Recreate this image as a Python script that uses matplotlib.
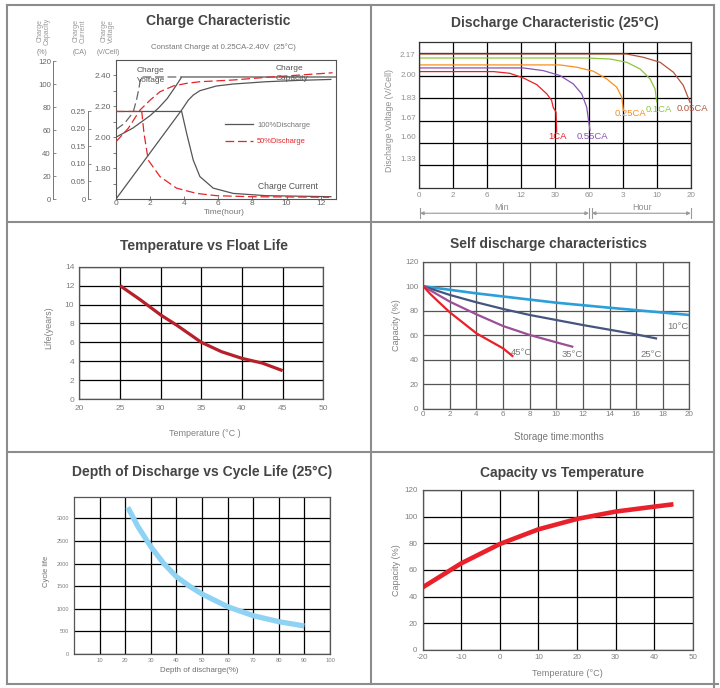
import numpy as np
import matplotlib
matplotlib.use('Agg')
import matplotlib.pyplot as plt
from matplotlib.lines import Line2D

plt.rcParams['font.family'] = ['Liberation Sans', 'DejaVu Sans']
plt.rcParams['axes.unicode_minus'] = False

W, H = 720, 688

### data: charge characteristic (time in hours) ###
v100_t = [0, 1, 2, 2.5, 3, 3.5, 3.85, 12.9]
v100_v = [2.00, 2.06, 2.14, 2.19, 2.25, 2.33, 2.39, 2.39]
v50_t = [0, 0.5, 1.0, 1.2, 1.35, 1.45, 3.85]
v50_v = [2.05, 2.09, 2.16, 2.24, 2.32, 2.39, 2.39]
cap100_t = [0, 3.85, 4.24, 4.53, 4.92, 5.89, 6.87, 8.8, 10.76, 12.6]
cap100_c = [0, 77.4, 86, 90.4, 94.2, 98.3, 100, 102, 103.2, 104]
cap50_t = [0, 0.72, 1.41, 2.0, 2.58, 3.36, 4.14, 4.92, 6.87, 8.8, 10.76, 12.7]
cap50_c = [49.8, 61.5, 77.4, 86, 93.3, 98.3, 100.6, 102, 103.5, 105.8, 107.8, 109.8]
cur100_t = [0, 3.85, 4.14, 4.53, 4.92, 5.7, 6.87, 8.8, 12.6]
cur100_a = [0.25, 0.25, 0.188, 0.111, 0.064, 0.031, 0.016, 0.0095, 0.0066]
cur50_t = [0, 1.51, 1.64, 1.89, 2.58, 3.55, 4.72, 5.89, 7.84, 12.5]
cur50_a = [0.25, 0.25, 0.188, 0.111, 0.064, 0.031, 0.016, 0.0095, 0.0066, 0.005]

### data: discharge characteristic (time in minutes, volts) ###
dis_ticks_min = [0, 2, 6, 12, 30, 60, 180, 600, 1200]
dis_tick_labels = ['0', '2', '6', '12', '30', '60', '3', '10', '20']
volt_labels = [1.33, 1.60, 1.67, 1.83, 2.00, 2.17]
# the printed voltage axis is not linear: volts -> grid row
volt_map = [1.00, 1.33, 1.60, 1.67, 1.83, 2.00, 2.17, 2.27]
row_map = [0, 1.30, 2.27, 3.13, 4.04, 5.05, 5.97, 6.52]
dis_curves = {
    '1CA': ([0, 7.1, 10, 13.2, 20.3, 25.6, 28.2, 29.1, 30.9, 31.5],
            [2.025, 2.025, 2.011, 1.975, 1.925, 1.856, 1.805, 1.748, 1.714, 1.618]),
    '0.55CA': ([0, 13.2, 23.8, 34.4, 46.2, 53.6, 58.0, 63.8],
               [2.055, 2.055, 2.033, 1.993, 1.930, 1.856, 1.753, 1.624]),
    '0.25CA': ([0, 34.4, 49.2, 75.6, 122.8, 158.2, 175.9, 186.3],
               [2.080, 2.080, 2.061, 2.028, 1.968, 1.906, 1.831, 1.727]),
    '0.1CA': ([0, 58, 134.6, 227.5, 392.5, 516.4, 578.6, 599],
              [2.137, 2.137, 2.129, 2.102, 2.047, 1.968, 1.893, 1.792]),
    '0.05CA': ([0, 227.5, 433.7, 657.6, 893.4, 1070, 1188],
               [2.170, 2.170, 2.143, 2.102, 2.020, 1.918, 1.790]),
}
dis_colors = {'1CA': '#e8202a', '0.55CA': '#8a52b4', '0.25CA': '#f7901e',
              '0.1CA': '#8cc63f', '0.05CA': '#b2553c'}

### data: temperature vs float life ###
float_temp = [25, 27.5, 30, 32, 35, 37.5, 40, 42.5, 45]
float_life = [12, 10.5, 8.9, 7.8, 6.0, 5.0, 4.3, 3.8, 3.0]

### data: self discharge ###
sd_months = {
    '10°C': [0, 4, 10, 14, 20],
    '25°C': [0, 2, 4, 6, 8, 12, 16, 17.5],
    '35°C': [0, 2, 4, 6, 8, 10, 11.2],
    '45°C': [0, 0.5, 1, 2, 4, 6, 6.7],
}
sd_cap = {
    '10°C': [100, 94.2, 86.6, 82.5, 76.6],
    '25°C': [100, 92.9, 86.9, 81.5, 76.6, 68.4, 60.8, 57.5],
    '35°C': [100, 87.4, 77.1, 67.6, 60.3, 54.3, 50.8],
    '45°C': [100, 94, 88.8, 78.7, 61.6, 49.4, 43.2],
}
sd_colors = {'10°C': '#2a9fd8', '25°C': '#45557f', '35°C': '#9b4f96', '45°C': '#e8202a'}

### data: depth of discharge vs cycle life ###
dod = [21, 25, 30, 35, 40, 45, 50, 60, 70, 80, 90]
cycles = [3245, 2817, 2375, 2006, 1711, 1504, 1327, 1047, 848, 715, 620]

### data: capacity vs temperature ###
ct_temp = [-20, -10, 0, 10, 20, 30, 40, 45]
ct_cap = [47, 65, 79.5, 90.5, 98.3, 103.8, 107.5, 109.3]


fig = plt.figure(figsize=(7.2, 6.88), dpi=100)


def rect(l, t, r, b):
    return [l / W, 1 - b / H, (r - l) / W, (b - t) / H]


def ftext(x, y, s, **kw):
    kw.setdefault('ha', 'center')
    kw.setdefault('va', 'center')
    fig.text(x / W, 1 - y / H, s, **kw)


def fline(x0, y0, x1, y1):
    fig.add_artist(Line2D([x0 / W, x1 / W], [1 - y0 / H, 1 - y1 / H],
                          color='#8c8c8c', lw=1.5, transform=fig.transFigure))


def interp_fn(xp, fp):
    return lambda x: np.interp(x, xp, fp)


def grid_panel(ax, fs, xpad, ypad):
    ax.grid(True, color='black', lw=0.9)
    ax.set_axisbelow(True)
    ax.tick_params(length=0, labelsize=fs, labelcolor='#808080')
    ax.tick_params(axis='x', pad=xpad)
    ax.tick_params(axis='y', pad=ypad)
    for s in ax.spines.values():
        s.set_color('#555555')
        s.set_linewidth(0.9)


TITLE = dict(fontsize=10, fontweight='bold', color='#454545')
GRAY = '#808080'

### panel borders ###
fline(7, 5, 714, 5)
fline(7, 684, 718, 684)
fline(7, 5, 7, 684)
fline(714, 5, 714, 688)
fline(371, 5, 371, 684)
fline(7, 222, 714, 222)
fline(7, 452, 714, 452)

### 1. charge characteristic ###
r1 = rect(116, 60, 336, 199)
ax1 = fig.add_axes(r1)
ax1.set_xlim(0, 12.9)
ax1.set_ylim(1.6, 2.5)
ax1.set_xticks(range(0, 13, 2))
ax1.set_yticks([1.8, 2.0, 2.2, 2.4])
ax1.set_yticklabels(['1.80', '2.00', '2.20', '2.40'])
ax1.set_yticks(np.arange(1.7, 2.5, 0.1), minor=True)
for s in ax1.spines.values():
    s.set_color('#555555')
    s.set_linewidth(0.8)
ax1.tick_params(labelsize=6, colors='#666666', labelcolor='#666666', length=2.5, width=0.6, pad=1)
ax1.tick_params(axis='y', which='minor', length=2, width=0.6, colors='#666666')
ax1.tick_params(axis='x', direction='in')

ax_cap = fig.add_axes(r1)
ax_cur = fig.add_axes(r1)
for axx, pos, top, bound, ticks, labels in [
        (ax_cap, (53 - 116) / 220, 120.9, 120, list(range(0, 121, 20)), None),
        (ax_cur, (88 - 116) / 220, 0.397, 0.25, [0, 0.05, 0.10, 0.15, 0.20, 0.25],
         ['0', '0.05', '0.10', '0.15', '0.20', '0.25'])]:
    axx.patch.set_visible(False)
    for k in ['top', 'right', 'bottom']:
        axx.spines[k].set_visible(False)
    axx.spines['left'].set_position(('axes', pos))
    axx.spines['left'].set_bounds(0, bound)
    axx.spines['left'].set_color('#777777')
    axx.spines['left'].set_linewidth(0.7)
    axx.set_xlim(0, 12.9)
    axx.set_ylim(0, top)
    axx.set_yticks(ticks)
    if labels:
        axx.set_yticklabels(labels)
    axx.xaxis.set_visible(False)
    axx.tick_params(axis='y', direction='in', length=2.5, width=0.6, colors='#777777',
                    labelcolor='#666666', labelsize=5.6, pad=1.5)

ax1.plot(v100_t, v100_v, color='#555555', lw=0.9)
ax1.plot(v50_t, v50_v, color='#666666', lw=0.9, dashes=(7, 3))
ax_cap.plot(cap100_t, cap100_c, color='#555555', lw=0.9)
ax_cap.plot(cap50_t, cap50_c, color='#e3262b', lw=0.9, dashes=(7, 3))
l100, = ax_cur.plot(cur100_t, cur100_a, color='#555555', lw=0.9, label='100%Discharge')
l50, = ax_cur.plot(cur50_t, cur50_a, color='#e3262b', lw=0.9, dashes=(7, 3), label='50%Discharge')
leg = ax_cur.legend(handles=[l100, l50], loc='upper left', bbox_to_anchor=(0.495, 0.556),
                    frameon=False, fontsize=5.4, handlelength=3.7, handletextpad=0.6,
                    labelspacing=1.2, borderpad=0, borderaxespad=0)
leg.get_texts()[0].set_color('#777777')
leg.get_texts()[1].set_color('#e3262b')

ftext(218, 21, 'Charge Characteristic', **TITLE)
ftext(223, 47, 'Constant Charge at 0.25CA-2.40V  (25°C)', fontsize=5.6, color='#777777')
ftext(224, 213, 'Time(hour)', fontsize=6, color='#777777')
ftext(44, 31, 'Charge\nCapacity', rotation=90, fontsize=5, color='#999999', linespacing=1.0)
ftext(42, 52, '(%)', fontsize=5, color='#888888')
ftext(80, 31, 'Charge\nCurrent', rotation=90, fontsize=5, color='#999999', linespacing=1.0)
ftext(80, 52, '(CA)', fontsize=5, color='#888888')
ftext(108, 31, 'Charge\nVoltage', rotation=90, fontsize=5, color='#999999', linespacing=1.0)
ftext(108, 52, '(V/Cell)', fontsize=5, color='#888888')
ftext(137, 71, 'Charge', ha='left', fontsize=6, color='#555555')
ftext(137, 81, 'Voltage', ha='left', fontsize=6, color='#555555')
ftext(276, 68, 'Charge', ha='left', fontsize=6, color='#555555')
ftext(276, 78, 'Capacity', ha='left', fontsize=6, color='#555555')
ftext(258, 187, 'Charge Current', ha='left', fontsize=6.2, color='#555555')

### 2. discharge characteristic ###
ax2 = fig.add_axes(rect(419.3, 41.7, 690.7, 187.7))
idx = np.arange(len(dis_ticks_min))
ax2.set_xscale('function', functions=(interp_fn(dis_ticks_min, idx), interp_fn(idx, dis_ticks_min)))
ax2.set_yscale('function', functions=(interp_fn(volt_map, row_map), interp_fn(row_map, volt_map)))
ax2.set_xlim(0, 1200)
ax2.set_ylim(1.0, 2.27)
ax2.set_xticks(dis_ticks_min)
ax2.set_xticklabels(dis_tick_labels)
ax2.set_yticks(volt_labels)
ax2.set_yticklabels(['%.2f' % v for v in volt_labels])
ax2.set_yticks(np.interp([1, 2, 3, 4, 5, 6], row_map, volt_map), minor=True)
ax2.set_yticklabels([], minor=True)
ax2.grid(True, which='major', axis='x', color='black', lw=0.9)
ax2.grid(True, which='minor', axis='y', color='black', lw=0.9)
ax2.set_axisbelow(True)
ax2.tick_params(which='both', length=0, labelsize=5.8, labelcolor='#909090')
ax2.tick_params(axis='x', pad=3)
ax2.tick_params(axis='y', pad=2.6)
for s in ax2.spines.values():
    s.set_color('#333333')
    s.set_linewidth(0.9)
for name, (t, v) in dis_curves.items():
    ax2.plot(t, v, color=dis_colors[name], lw=0.9)
for name, fx, fy in [('1CA', 0.508, 0.349), ('0.55CA', 0.637, 0.349), ('0.25CA', 0.779, 0.505),
                     ('0.1CA', 0.884, 0.537), ('0.05CA', 1.008, 0.544)]:
    ax2.text(fx, fy, name, transform=ax2.transAxes, ha='center', va='center',
             fontsize=6.8, color=dis_colors[name])
ax2.text(0.304, -0.137, 'Min', transform=ax2.transAxes, ha='center', va='center',
         fontsize=6.5, color='#909090')
ax2.text(0.819, -0.137, 'Hour', transform=ax2.transAxes, ha='center', va='center',
         fontsize=6.5, color='#909090')
for a, b in [(0.003, 0.625), (0.636, 1.0)]:
    ax2.annotate('', xy=(a, -0.175), xytext=(b, -0.175), xycoords='axes fraction',
                 arrowprops=dict(arrowstyle='<|-|>', color='#999999', lw=0.8,
                                 mutation_scale=5, shrinkA=0, shrinkB=0),
                 annotation_clip=False)
    for e in (a, b):
        ax2.plot([e, e], [-0.14, -0.21], transform=ax2.transAxes, clip_on=False,
                 color='#999999', lw=0.8)
ftext(555, 23, 'Discharge Characteristic (25°C)', **TITLE)
ftext(389, 120, 'Discharge Voltage (V/Cell)', rotation=90, fontsize=6.3, color='#909090')

### 3. temperature vs float life ###
ax3 = fig.add_axes(rect(79.3, 266.7, 323.3, 399))
ax3.set_xlim(20, 50)
ax3.set_ylim(0, 14)
ax3.set_xticks(range(20, 51, 5))
ax3.set_yticks(range(0, 15, 2))
grid_panel(ax3, 6, 4.3, 3.6)
ax3.plot(float_temp, float_life, color='#b5202a', lw=2.3, solid_capstyle='butt')
ftext(204, 245.7, 'Temperature vs Float Life', **TITLE)
ftext(205, 434, 'Temperature (°C )', fontsize=6.5, color=GRAY)
ftext(49, 328, 'Life(years)', rotation=90, fontsize=6.5, color=GRAY)

### 4. self discharge ###
ax4 = fig.add_axes(rect(423.3, 261.7, 689.3, 409))
ax4.set_xlim(0, 20)
ax4.set_ylim(0, 120)
ax4.set_xticks(range(0, 21, 2))
ax4.set_yticks(range(0, 121, 20))
grid_panel(ax4, 5.8, 1.2, 3.6)
ax4.grid(True, color='#555555', lw=0.9)
for name in ['10°C', '25°C', '35°C', '45°C']:
    ax4.plot(sd_months[name], sd_cap[name], color=sd_colors[name],
             lw=1.9 if name == '10°C' else 1.6)
for name, x, y in [('10°C', 19.17, 67.1), ('25°C', 17.12, 44.8),
                   ('35°C', 11.2, 44.3), ('45°C', 7.4, 46.4)]:
    ax4.text(x, y, name, ha='center', va='center', fontsize=6.8, color='#777777')
ftext(549, 244.3, 'Self discharge characteristics', **TITLE)
ftext(559, 436.7, 'Storage time:months', fontsize=7, color='#777777')
ftext(396.7, 325, 'Capacity (%)', rotation=90, fontsize=6.5, color=GRAY)

### 5. depth of discharge vs cycle life ###
ax5 = fig.add_axes(rect(74, 496.7, 330, 654))
ax5.set_xlim(0, 100)
ax5.set_ylim(0, 3480)
ax5.set_xticks(range(10, 101, 10))
ax5.set_yticks(range(0, 3001, 500))
grid_panel(ax5, 4.2, 2.7, 3.6)
ax5.tick_params(axis='y', labelsize=4)
ax5.plot(dod, cycles, color='#8ed3f4', lw=3.8, solid_capstyle='butt')
ftext(201.7, 471.7, 'Depth of Discharge vs Cycle Life (25°C)', **TITLE)
ftext(199, 670, 'Depth of discharge(%)', fontsize=5.7, color='#707070')
ftext(46.7, 571.7, 'Cycle life', rotation=90, fontsize=5.5, color='#707070')

### 6. capacity vs temperature ###
ax6 = fig.add_axes(rect(422.7, 490, 692.7, 650))
ax6.set_xlim(-20, 50)
ax6.set_ylim(0, 120)
ax6.set_xticks(range(-20, 51, 10))
ax6.set_yticks(range(0, 121, 20))
grid_panel(ax6, 5.8, 3.2, 3.9)
ax6.plot(ct_temp, ct_cap, color='#e8212b', lw=3.3, solid_capstyle='butt')
ftext(562.3, 472.7, 'Capacity vs Temperature', **TITLE)
ftext(567.3, 674, 'Temperature (°C)', fontsize=6.6, color=GRAY)
ftext(396.7, 570, 'Capacity (%)', rotation=90, fontsize=6.5, color=GRAY)

fig.savefig('out.png', dpi=100)
